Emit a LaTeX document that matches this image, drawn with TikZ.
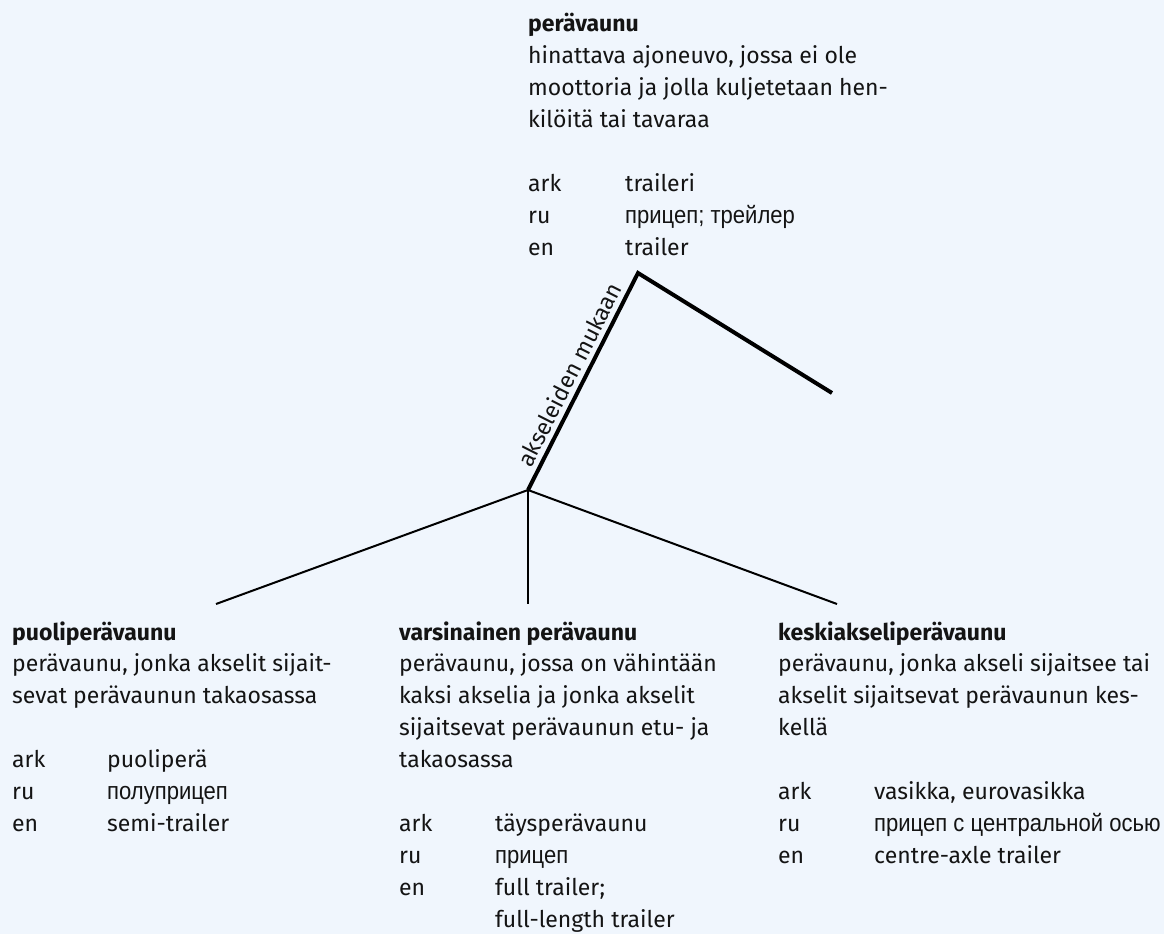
\documentclass[tikz,border=0pt]{standalone}
\usepackage{fontspec}
\setmainfont{Fira Sans}
\newfontfamily\cyr{Liberation Sans}[FakeStretch=0.9]
\definecolor{bg}{RGB}{240,246,253}
\definecolor{ink}{RGB}{20,20,20}
\tikzset{
  txt/.style={anchor=base west, inner sep=0pt, text=ink, font=\fontsize{23}{30}\selectfont},
  ttl/.style={txt, font=\fontsize{23}{30}\selectfont\bfseries},
  ru/.style={txt, font=\fontsize{24.5}{30}\cyr},
  thickline/.style={line width=4pt, draw=black},
  thinline/.style={line width=2pt, draw=black},
  lbl/.style={inner sep=4.5pt, text=ink, font=\fontsize{23}{30}\selectfont}
}
\begin{document}
\begin{tikzpicture}[x=1pt,y=-1pt]
\fill[bg] (0,0) rectangle (1164,934);
\useasboundingbox (0,0) rectangle (1164,934);
% top block
\node[ttl] (t0) at (528,32) {perävaunu};
\node[txt] (t1) at (528,63.9) {hinattava ajoneuvo, jossa ei ole};
\node[txt] (t2) at (528,95.8) {moottoria ja jolla kuljetetaan hen-};
\node[txt] (t3) at (528,127.7) {kilöitä tai tavaraa};
\node[txt] (t4) at (528,191.5) {ark};
\node[txt] (t5) at (625,191.5) {traileri};
\node[txt] (t6) at (528,223.4) {ru};
\node[ru]  (t7) at (625,223.4) {прицеп; трейлер};
\node[txt] (t8) at (528,255.3) {en};
\node[txt] (t9) at (625,255.3) {trailer};
% left block
\node[ttl] (l0) at (12,640) {puoliperävaunu};
\node[txt] (l1) at (12,671.9) {perävaunu, jonka akselit sijait-};
\node[txt] (l2) at (12,703.8) {sevat perävaunun takaosassa};
\node[txt] (l3) at (12,767.6) {ark};
\node[txt] (l4) at (107,767.6) {puoliperä};
\node[txt] (l5) at (12,799.5) {ru};
\node[ru]  (l6) at (107,799.5) {полуприцеп};
\node[txt] (l7) at (12,831.4) {en};
\node[txt] (l8) at (107,831.4) {semi-trailer};
% middle block
\node[ttl] (m0) at (399,640) {varsinainen perävaunu};
\node[txt] (m1) at (399,671.9) {perävaunu, jossa on vähintään};
\node[txt] (m2) at (399,703.8) {kaksi akselia ja jonka akselit};
\node[txt] (m3) at (399,735.7) {sijaitsevat perävaunun etu- ja};
\node[txt] (m4) at (399,767.6) {takaosassa};
\node[txt] (m5) at (399,831.4) {ark};
\node[txt] (m6) at (495,831.4) {täysperävaunu};
\node[txt] (m7) at (399,863.3) {ru};
\node[ru]  (m8) at (495,863.3) {прицеп};
\node[txt] (m9) at (399,895.2) {en};
\node[txt] (m10) at (495,895.2) {full trailer;};
\node[txt] (m11) at (495,927.1) {full-length trailer};
% right block
\node[ttl] (r0) at (778,640) {keskiakseliperävaunu};
\node[txt] (r1) at (778,671.9) {perävaunu, jonka akseli sijaitsee tai};
\node[txt] (r2) at (778,703.8) {akselit sijaitsevat perävaunun kes-};
\node[txt] (r3) at (778,735.7) {kellä};
\node[txt] (r4) at (778,799.5) {ark};
\node[txt] (r5) at (874,799.5) {vasikka, eurovasikka};
\node[txt] (r6) at (778,831.4) {ru};
\node[ru]  (r7) at (874,831.4) {прицеп с центральной осью};
\node[txt] (r8) at (778,863.3) {en};
\node[txt] (r9) at (874,863.3) {centre-axle trailer};
% connectors
\coordinate (apex) at (638,273);
\coordinate (hub) at (528,490);
\coordinate (rend) at (832,393);
\coordinate (lend) at (216,604);
\coordinate (mend) at (528,604);
\coordinate (rrend) at (837,604);
\draw[thickline] (hub) -- node[lbl, sloped, above, pos=0.5] (lab) {akseleiden mukaan} (apex) -- (rend);
\draw[thinline] (hub) -- (lend);
\draw[thinline] (hub) -- (mend);
\draw[thinline] (hub) -- (rrend);
\end{tikzpicture}
\end{document}
